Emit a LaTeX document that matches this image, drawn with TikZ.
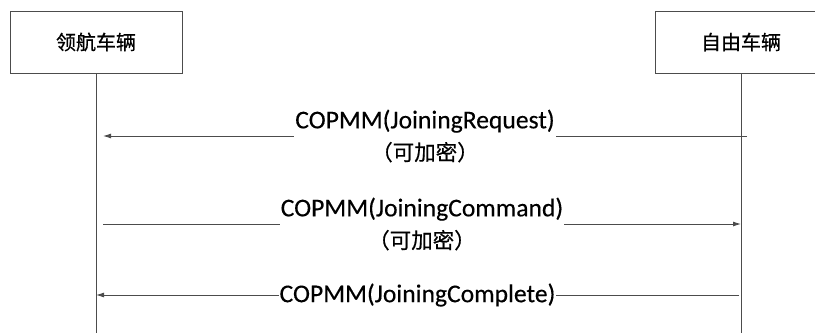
\documentclass[tikz,border=0pt]{standalone}
\usepackage{fontspec}
\setmainfont{Carlito}[FakeBold=0.3]
\newfontfamily\cjk{Noto Sans CJK SC}[FakeBold=0.6]
\usetikzlibrary{arrows.meta, positioning, calc}

\begin{document}
\begin{tikzpicture}[x=1pt, y=-1pt, >={Latex[length=8pt,width=5pt]}, line width=0.9pt]
    \useasboundingbox (0,0) rectangle (815,333);
    \clip (0,0) rectangle (815,333);
    \tikzset{
      entity/.style={draw=black!70, minimum width=172pt, minimum height=62pt, font=\cjk\fontsize{20}{22}\selectfont},
      msg/.style={fill=white, inner sep=1pt, align=center, font=\fontsize{25.6}{32}\selectfont},
      life/.style={draw=black!70}
    }

    \node[entity] (lead) at (96,42) {领航车辆};
    \node[entity] (free) at (741,42) {自由车辆};

    \coordinate (leadend) at (lead.south |- 0,333);
    \coordinate (freeend) at (free.south |- 0,333);
    \draw[life] (lead.south) -- (leadend);
    \draw[life] (free.south) -- (freeend);

    % JoiningRequest
    \coordinate (reqS) at (747,136);
    \coordinate (reqE) at (103,136);
    \draw[->, life] (reqS) -- node[msg] (req) {COPMM(JoiningRequest)\\{\cjk\fontsize{21.5}{32}\selectfont （可加密）}} (reqE);

    % JoiningCommand
    \coordinate (cmdS) at (103,224);
    \coordinate (cmdE) at (741,224);
    \draw[->, life] (cmdS) -- node[msg] (cmd) {COPMM(JoiningCommand)\\{\cjk\fontsize{21.5}{32}\selectfont （可加密）}} (cmdE);

    % JoiningComplete
    \coordinate (cplS) at (739,295);
    \coordinate (cplE) at (96,295);
    \draw[->, life] (cplS) -- node[msg] (cpl) {COPMM(JoiningComplete)} (cplE);
\end{tikzpicture}
\end{document}
